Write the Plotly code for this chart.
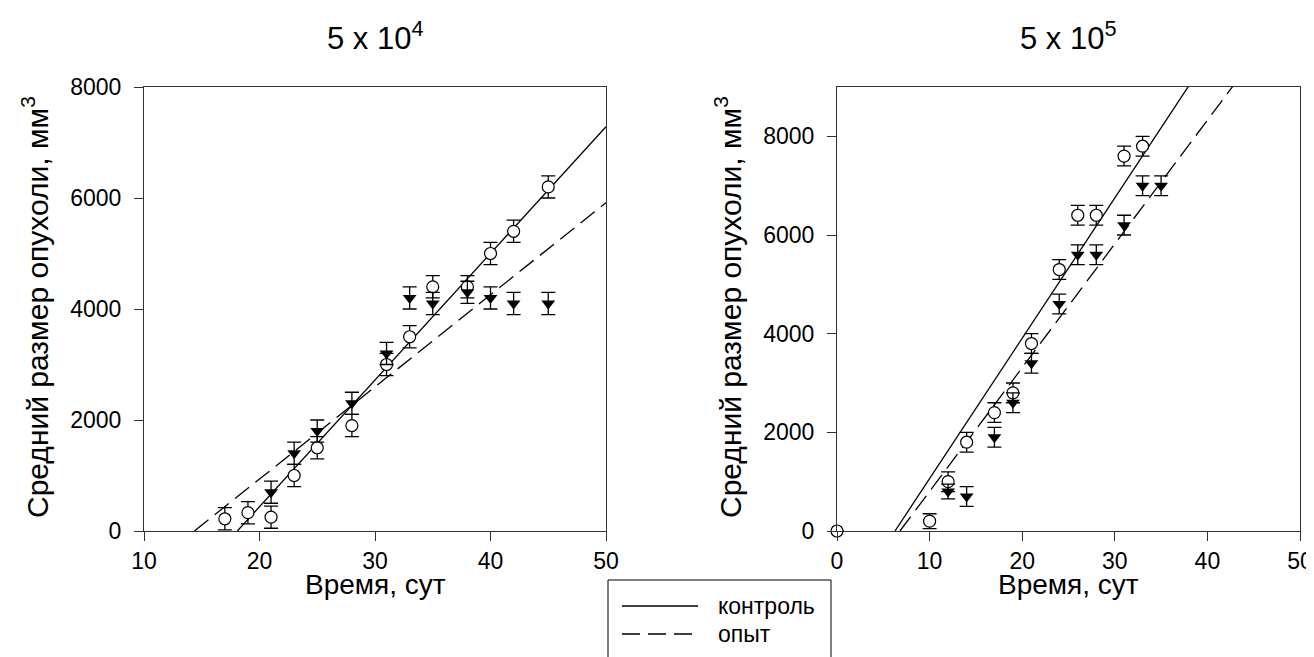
import numpy as np
import plotly.graph_objects as go

# ---- Data: left panel (5 x 10^4) ----
left_ctrl_x = [17, 19, 21, 23, 25, 28, 31, 33, 35, 38, 40, 42, 45]
left_ctrl_y = [220, 330, 250, 1000, 1500, 1900, 3000, 3500, 4400, 4400, 5000, 5400, 6200]
left_ctrl_err = [200, 200, 200, 200, 200, 200, 200, 200, 200, 200, 200, 200, 200]

left_exp_x = [21, 23, 25, 28, 31, 33, 35, 38, 40, 42, 45]
left_exp_y = [700, 1400, 1800, 2300, 3200, 4200, 4100, 4300, 4200, 4100, 4100]
left_exp_err = [200, 200, 200, 200, 200, 200, 200, 200, 200, 200, 200]

# regression lines (slope, intercept)
left_ctrl_fit = [228.2, -4126]
left_exp_fit = [166.0, -2384]

# ---- Data: right panel (5 x 10^5) ----
right_ctrl_x = [0, 10, 12, 14, 17, 19, 21, 24, 26, 28, 31, 33]
right_ctrl_y = [0, 200, 1000, 1800, 2400, 2800, 3800, 5300, 6400, 6400, 7600, 7800]
right_ctrl_err = [0, 150, 200, 200, 200, 200, 200, 200, 200, 200, 200, 200]

right_exp_x = [12, 14, 17, 19, 21, 24, 26, 28, 31, 33, 35]
right_exp_y = [800, 700, 1900, 2600, 3400, 4600, 5600, 5600, 6200, 7000, 7000]
right_exp_err = [150, 200, 200, 200, 200, 200, 200, 200, 200, 200, 200]

right_ctrl_fit = [284.4, -1781]
right_exp_fit = [250.8, -1705]

titles = ["5 x 10<sup>4</sup>", "5 x 10<sup>5</sup>"]
x_title = "Время, сут"
y_title = "Средний размер опухоли, мм<sup>3</sup>"
legend_names = ["контроль", "опыт"]

FONT = "Arial, Liberation Sans, sans-serif"
W, H = 1314, 657
OFF = 8  # page body margin offset
# plot area edges in screen pixels
SX0, SX1, SY0, SY1 = 144, 1300, 87, 531
ML = SX0 - OFF
MT = SY0 - OFF
MR = W - (SX1 - OFF)
MB = H - (SY1 - OFF)
PW = W - ML - MR
PH = H - MT - MB


def px(sx):
    return (sx - OFF - ML) / PW


def py(sy):
    return (H - MB - (sy - OFF)) / PH


fig = go.Figure()


def fit_line(fit, xmax):
    s, b = fit
    x0 = -b / s
    xs = np.array([x0, xmax])
    return xs, s * xs + b


def add_panel(xa, ya, cx, cy, ce, ex, ey, ee, cfit, efit):
    xs, ys = fit_line(cfit, 50)
    fig.add_trace(go.Scatter(x=xs, y=ys, mode="lines", xaxis=xa, yaxis=ya,
                             line=dict(color="black", width=1.3), showlegend=False,
                             hoverinfo="skip"))
    xs, ys = fit_line(efit, 50)
    fig.add_trace(go.Scatter(x=xs, y=ys, mode="lines", xaxis=xa, yaxis=ya,
                             line=dict(color="black", width=1.3, dash="18px,8px"),
                             showlegend=False, hoverinfo="skip"))
    fig.add_trace(go.Scatter(x=cx, y=cy, mode="markers", xaxis=xa, yaxis=ya,
                             error_y=dict(type="data", array=ce, color="black",
                                          thickness=1.3, width=7),
                             marker=dict(symbol="circle", size=12, color="white",
                                         line=dict(color="black", width=1.2)),
                             showlegend=False, cliponaxis=False))
    fig.add_trace(go.Scatter(x=ex, y=ey, mode="markers", xaxis=xa, yaxis=ya,
                             error_y=dict(type="data", array=ee, color="black",
                                          thickness=1.3, width=7),
                             marker=dict(symbol="triangle-down", size=12, color="black",
                                         line=dict(color="black", width=0)),
                             showlegend=False, cliponaxis=False))


add_panel("x", "y", left_ctrl_x, left_ctrl_y, left_ctrl_err,
          left_exp_x, left_exp_y, left_exp_err, left_ctrl_fit, left_exp_fit)
add_panel("x2", "y2", right_ctrl_x, right_ctrl_y, right_ctrl_err,
          right_exp_x, right_exp_y, right_exp_err, right_ctrl_fit, right_exp_fit)

axis_common = dict(showline=True, linecolor="#333", linewidth=1, mirror=True,
                   ticks="outside", ticklen=9, tickcolor="#333", showgrid=False,
                   zeroline=False, automargin=False,
                   tickfont=dict(family=FONT, size=23, color="black"))
xstyle = dict(ticklabelstandoff=0, **axis_common)
ystyle = dict(ticklabelstandoff=8, **axis_common)

left_dom_x = [0, px(606)]
right_dom_x = [px(837), 1]

fig.update_layout(
    width=W, height=H,
    margin=dict(l=ML, r=MR, t=MT, b=MB, autoexpand=False),
    paper_bgcolor="white", plot_bgcolor="white",
    font=dict(family=FONT, color="black"),
    xaxis=dict(domain=left_dom_x, range=[10, 50], tickvals=[10, 20, 30, 40, 50],
               anchor="y", **xstyle),
    yaxis=dict(domain=[0, 1], range=[0, 8000], tickvals=[0, 2000, 4000, 6000, 8000],
               anchor="x", **ystyle),
    xaxis2=dict(domain=right_dom_x, range=[0, 50], tickvals=[0, 10, 20, 30, 40, 50],
                anchor="y2", **xstyle),
    yaxis2=dict(domain=[0, 1], range=[0, 9000], tickvals=[0, 2000, 4000, 6000, 8000],
                anchor="x2", **ystyle),
)

# panel titles
for cx_px, t in zip([375, 1068], titles):
    fig.add_annotation(x=px(cx_px), y=py(36), xref="paper", yref="paper",
                       text=t, showarrow=False, font=dict(size=31, family=FONT),
                       xanchor="center", yanchor="middle")

# axis titles
for cx_px in [375, 1068]:
    fig.add_annotation(x=px(cx_px), y=py(584), xref="paper", yref="paper",
                       text=x_title, showarrow=False, font=dict(size=28, family=FONT),
                       xanchor="center", yanchor="middle")
for cy_px in [35, 728]:
    fig.add_annotation(x=px(cy_px), y=py(307), xref="paper", yref="paper",
                       text=y_title, showarrow=False, textangle=-90,
                       font=dict(size=30, family=FONT),
                       xanchor="center", yanchor="middle")

# manual legend
bx0, bx1, by0, by1 = 608, 831, 580, 670
fig.add_shape(type="rect", xref="paper", yref="paper",
              x0=px(bx0), x1=px(bx1), y0=py(by1), y1=py(by0),
              line=dict(color="black", width=1), fillcolor="white")
for i, (name, dash) in enumerate(zip(legend_names, ["solid", "18px,8px"])):
    yy = 606 + i * 28
    fig.add_shape(type="line", xref="paper", yref="paper",
                  x0=px(622), x1=px(698), y0=py(yy), y1=py(yy),
                  line=dict(color="black", width=1.3, dash=dash))
    fig.add_annotation(x=px(716), y=py(yy), xref="paper", yref="paper",
                       text=name, showarrow=False, xanchor="left", yanchor="middle",
                       font=dict(size=23, family=FONT))

fig.write_html("out.html")
